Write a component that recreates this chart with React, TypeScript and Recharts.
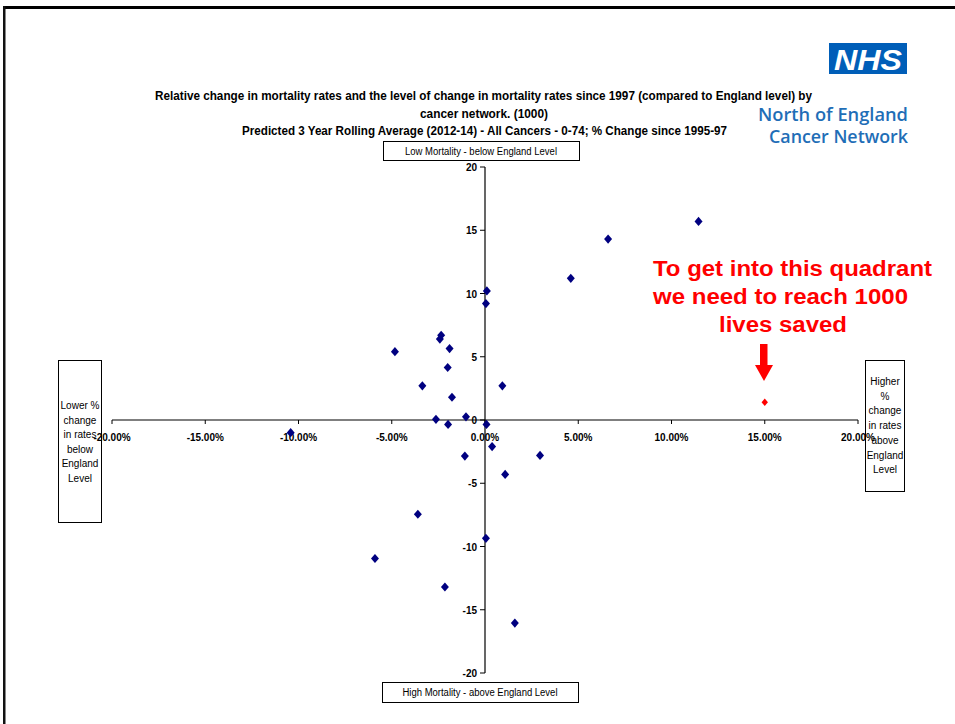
import React from 'react';
import { ScatterChart, Scatter, XAxis, YAxis, ReferenceLine, ReferenceDot } from 'recharts';

// % change in mortality rate vs England (x) and level of mortality vs England (y)
const networkChange = [
  11.45, 6.6, 4.6, 0.1, 0.05, -2.35, -2.42, -1.9, -2.0, -4.83, -3.36, -1.77, 0.93, -2.63,
  -1.02, -1.98, 0.08, 0.38, -1.08, 2.95, 1.08, -10.42, -3.6, 0.05, -5.9, -2.15, 1.6,
];
const mortalityLevel = [
  15.7, 14.3, 11.2, 10.2, 9.2, 6.7, 6.4, 5.65, 4.15, 5.4, 2.7, 1.8, 2.7, 0.05,
  0.25, -0.35, -0.35, -2.1, -2.85, -2.8, -4.3, -1.0, -7.45, -9.35, -10.95, -13.2, -16.05,
];
// target needed to reach 1000 lives saved
const targetChange = [15.0];
const targetLevel = [1.4];

const xTicks = [-20, -15, -10, -5, 0, 5, 10, 15, 20];
const yTicks = [20, 15, 10, 5, 0, -5, -10, -15, -20];

const titleLines = [
  'Relative change in mortality rates and the level of change in mortality rates since 1997 (compared to England level) by',
  'cancer network. (1000)',
  'Predicted 3 Year Rolling Average (2012-14) - All Cancers - 0-74; % Change since 1995-97',
];
const leftBoxLines = ['Lower %', 'change', 'in rates', 'below', 'England', 'Level'];
const rightBoxLines = ['Higher', '%', 'change', 'in rates', 'above', 'England', 'Level'];
const noteLines = ['To get into this quadrant', 'we need to reach 1000', 'lives saved'];

const FONT = '"Liberation Sans", Arial, sans-serif';

const networkData = networkChange.map((x, i) => ({ x, y: mortalityLevel[i] }));
const targetData = targetChange.map((x, i) => ({ x, y: targetLevel[i] }));

const Diamond = (w: number, h: number, color: string) => (props: any) => {
  const { cx, cy } = props;
  return (
    <polygon
      points={`${cx},${cy - h} ${cx + w},${cy} ${cx},${cy + h} ${cx - w},${cy}`}
      fill={color}
    />
  );
};

const XTick = (label: string) => (props: any) => {
  const { cx, cy } = props;
  return (
    <g>
      <line x1={cx} y1={cy} x2={cx} y2={cy + 4} stroke="#000" strokeWidth={1} />
      <text x={cx} y={cy + 21} textAnchor="middle" fontFamily={FONT} fontWeight="bold" fontSize={10} fill="#000">
        {label}
      </text>
    </g>
  );
};

const YTick = (label: string) => (props: any) => {
  const { cx, cy } = props;
  return (
    <g>
      <line x1={cx - 5} y1={cy} x2={cx} y2={cy} stroke="#000" strokeWidth={1} />
      <text x={cx - 8} y={cy + 4} textAnchor="end" fontFamily={FONT} fontWeight="bold" fontSize={10} fill="#000">
        {label}
      </text>
    </g>
  );
};

const Overlay: React.FC = () => (
  <svg
    width={955}
    height={724}
    style={{ position: 'absolute', left: 0, top: 0, pointerEvents: 'none' }}
  >
    {/* slide frame */}
    <rect x={3} y={6} width={952} height={3} fill="#000" />
    <rect x={3} y={6} width={2.5} height={718} fill="#111" />

    {/* title */}
    <text x={483.5} y={100} textAnchor="middle" fontFamily={FONT} fontWeight="bold" fontSize={12}
      textLength={657} lengthAdjust="spacingAndGlyphs">{titleLines[0]}</text>
    <text x={484} y={118} textAnchor="middle" fontFamily={FONT} fontWeight="bold" fontSize={12}
      textLength={128} lengthAdjust="spacingAndGlyphs">{titleLines[1]}</text>
    <text x={484.5} y={135} textAnchor="middle" fontFamily={FONT} fontWeight="bold" fontSize={12}
      textLength={485} lengthAdjust="spacingAndGlyphs">{titleLines[2]}</text>

    {/* NHS logo */}
    <rect x={829} y={43} width={78} height={31} fill="#005EB8" />
    <text x={868} y={70} textAnchor="middle" fontFamily={FONT} fontWeight="bold" fontStyle="italic"
      fontSize={30} fill="#fff" textLength={68} lengthAdjust="spacingAndGlyphs">NHS</text>
    <text x={908} y={121} textAnchor="end" fontFamily='"Open Sans", sans-serif' fontWeight={600}
      fontSize={18} fill="#1F6EB7" textLength={150} lengthAdjust="spacingAndGlyphs">North of England</text>
    <text x={908} y={143} textAnchor="end" fontFamily='"Open Sans", sans-serif' fontWeight={600}
      fontSize={18} fill="#1F6EB7" textLength={139} lengthAdjust="spacingAndGlyphs">Cancer Network</text>

    {/* quadrant boxes */}
    <rect x={383.5} y={141.5} width={196} height={19} fill="none" stroke="#000" strokeWidth={1} />
    <text x={481} y={155} textAnchor="middle" fontFamily={FONT} fontSize={10}
      textLength={152} lengthAdjust="spacingAndGlyphs">Low Mortality - below England Level</text>
    <rect x={382.5} y={682.5} width={196} height={20} fill="none" stroke="#000" strokeWidth={1} />
    <text x={480} y={696} textAnchor="middle" fontFamily={FONT} fontSize={10}
      textLength={155} lengthAdjust="spacingAndGlyphs">High Mortality - above England Level</text>

    <rect x={58.5} y={360.5} width={43} height={162} fill="none" stroke="#000" strokeWidth={1} />
    {leftBoxLines.map((t, i) => (
      <text key={t} x={80} y={409 + i * 14.5} textAnchor="middle" fontFamily={FONT} fontSize={10}>{t}</text>
    ))}
    <rect x={865.5} y={360.5} width={39} height={131} fill="none" stroke="#000" strokeWidth={1} />
    {rightBoxLines.map((t, i) => (
      <text key={t + i} x={885} y={385 + i * 14.7} textAnchor="middle" fontFamily={FONT} fontSize={10}>{t}</text>
    ))}

    {/* red note with arrow */}
    <text x={653} y={276} fontFamily={FONT} fontWeight="bold" fontSize={22} fill="#FF0000"
      textLength={279} lengthAdjust="spacingAndGlyphs">{noteLines[0]}</text>
    <text x={653} y={304} fontFamily={FONT} fontWeight="bold" fontSize={22} fill="#FF0000"
      textLength={255} lengthAdjust="spacingAndGlyphs">{noteLines[1]}</text>
    <text x={719} y={332} fontFamily={FONT} fontWeight="bold" fontSize={22} fill="#FF0000"
      textLength={128} lengthAdjust="spacingAndGlyphs">{noteLines[2]}</text>
    <rect x={760} y={344} width={7.5} height={22} fill="#FF0000" />
    <polygon points="755,365 773,365 764,381" fill="#FF0000" />
  </svg>
);

const App: React.FC = () => {
  return (
    <div style={{ position: 'absolute', left: 0, top: 0, width: 955, height: 724, background: '#fff' }}>
      <ScatterChart width={955} height={724} margin={{ top: 167, right: 97, bottom: 51, left: 112 }}>
        <XAxis type="number" dataKey="x" domain={[-20, 20]} hide />
        <YAxis type="number" dataKey="y" domain={[-20, 20]} hide />
        <ReferenceLine y={0} stroke="#000" strokeWidth={1.2} />
        <ReferenceLine x={0} stroke="#000" strokeWidth={1.2} />
        {xTicks.map((t) => (
          <ReferenceDot key={`xt${t}`} x={t} y={0} r={1} shape={XTick(`${t.toFixed(2)}%`)} />
        ))}
        {yTicks.map((t) => (
          <ReferenceDot key={`yt${t}`} x={0} y={t} r={1} shape={YTick(`${t}`)} />
        ))}
        <Scatter data={networkData} shape={Diamond(4, 4.6, '#000080')} isAnimationActive={false} />
        <Scatter data={targetData} shape={Diamond(3.2, 3.8, '#FF0000')} isAnimationActive={false} />
      </ScatterChart>
      <Overlay />
    </div>
  );
};

export default App;
